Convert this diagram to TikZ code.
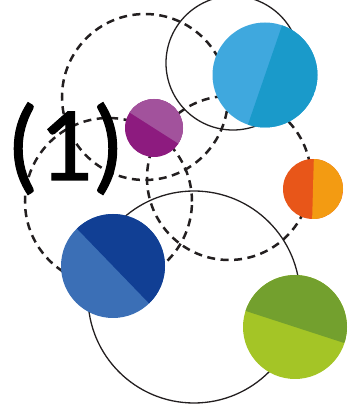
\documentclass[tikz,border=0pt]{standalone}
\usepackage{fontspec}
\newfontfamily\tagfont[FakeBold=1]{Carlito}
\usetikzlibrary{calc}

\definecolor{ink}{HTML}{231F20}
\definecolor{skyA}{HTML}{3FA8DE}
\definecolor{skyB}{HTML}{1A9ACA}
\definecolor{plumA}{HTML}{8D1B7F}
\definecolor{plumB}{HTML}{A2529C}
\definecolor{flameA}{HTML}{E85619}
\definecolor{flameB}{HTML}{F39B12}
\definecolor{navyA}{HTML}{3B6FB6}
\definecolor{navyB}{HTML}{113F94}
\definecolor{leafA}{HTML}{A4C526}
\definecolor{leafB}{HTML}{73A02E}

% centre, radius, angle of the cut, base colour, colour of the cut-off half
\newcommand{\halfdisc}[5]{%
  \fill[#4] (#1) circle[radius=#2pt];
  \begin{scope}
    \clip (#1) circle[radius=#2pt];
    \fill[#5, rotate around={#3:(#1)}] ($(#1)+(-#2,0)$) rectangle ($(#1)+(#2,#2)$);
  \end{scope}}

\begin{document}
\begin{tikzpicture}[
        x=1pt, y=1pt,
        dashring/.style={draw=ink, line width=2.5pt, dash pattern=on 8pt off 5.5pt},
        ring/.style={draw=ink, line width=1.3pt},
        numtag/.style={font=\fontsize{106}{106}\tagfont, text=black, inner sep=0pt, anchor=base}
    ]
        \useasboundingbox (0,0) rectangle (348,405);

        \coordinate (sky) at (265,330);
        \coordinate (plum) at (154,277);
        \coordinate (flame) at (313,216);
        \coordinate (navy) at (113,139);
        \coordinate (leaf) at (295,78);

        \draw[dashring] (145,308) circle[radius=83pt];
        \draw[dashring] (108.5,203.5) circle[radius=83.5pt];
        \draw[dashring] (229,227) circle[radius=82pt];
        \draw[ring] (233,342) circle[radius=67pt];
        \draw[ring] (194,108) circle[radius=106pt];

        \halfdisc{sky}{52.5}{251}{skyA}{skyB}
        \halfdisc{plum}{29}{-32.5}{plumA}{plumB}
        \halfdisc{flame}{30}{268.4}{flameA}{flameB}
        \halfdisc{navy}{52}{-46}{navyA}{navyB}
        \halfdisc{leaf}{52}{-18}{leafA}{leafB}

        \node[numtag] (one) at (65.5,225) {(1)};
    \end{tikzpicture}
\end{document}
